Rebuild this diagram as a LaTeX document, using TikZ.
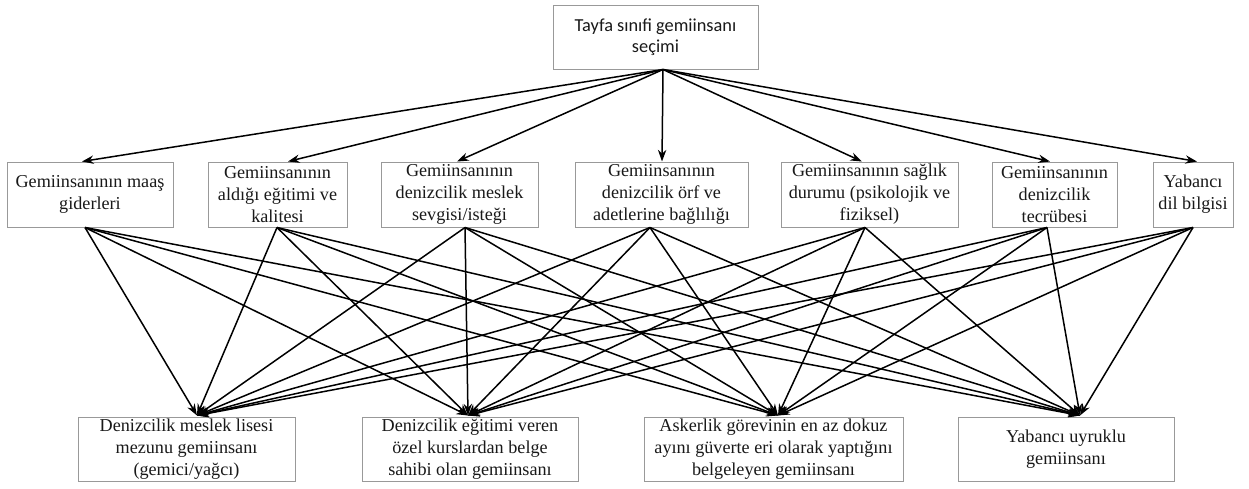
\documentclass[tikz,border=0pt]{standalone}
\usepackage{fontspec}
\setmainfont{Liberation Serif}
\newfontfamily\tnr{Liberation Serif}
\newfontfamily\calib{Carlito}
\usetikzlibrary{arrows.meta,calc}
\begin{document}
\begin{tikzpicture}[x=0.6pt,y=-0.6pt,
  box/.style={draw=black!40,line width=0.6pt,fill=white,inner sep=0pt,align=center,
    font=\tnr\fontsize{10.9}{13.2}\selectfont,text=black!90},
  mid/.style={box,minimum height=39pt},
  bot/.style={box,minimum height=38.4pt},
  con/.style={line width=0.9pt,draw=black,-{Stealth[length=7pt,width=5pt]}}]
\useasboundingbox (0,0) rectangle (1249,488);
% top
\node[box,font=\calib\fontsize{11}{12.5}\selectfont,minimum width=123pt,minimum height=38.4pt] (top) at (655.5,37) {Tayfa sınıfi gemiinsanı\\seçimi};
% middle row
\node[mid,minimum width=99.6pt] (m1) at (90,194.5) {Gemiinsanının maaş\\giderleri};
\node[mid,minimum width=83.4pt] (m2) at (277.5,194.5) {Gemiinsanının\\aldığı eğitimi ve\\kalitesi};
\node[mid,minimum width=94.2pt] (m3) at (459.5,194.5) {Gemiinsanının\\denizcilik meslek\\sevgisi/isteği};
\node[mid,minimum width=103.8pt] (m4) at (661.5,194.5) {Gemiinsanının\\denizcilik örf ve\\adetlerine bağlılığı};
\node[mid,minimum width=106.2pt] (m5) at (869.5,194.5) {Gemiinsanının sağlık\\durumu (psikolojik ve\\fiziksel)};
\node[mid,minimum width=75pt] (m6) at (1054.5,194.5) {Gemiinsanının\\denizcilik\\tecrübesi};
\node[mid,minimum width=48pt] (m7) at (1193,194.5) {Yabancı\\dil bilgisi};
% bottom row
\node[bot,minimum width=130.2pt] (b1) at (186.5,449) {Denizcilik meslek lisesi\\mezunu gemiinsanı\\(gemici/yağcı)};
\node[bot,minimum width=129.6pt] (b2) at (470,449) {Denizcilik eğitimi veren\\özel kurslardan belge\\sahibi olan gemiinsanı};
\node[bot,minimum width=155.4pt] (b3) at (773.5,449) {Askerlik görevinin en az dokuz\\ayını güverte eri olarak yaptığını\\belgeleyen gemiinsanı};
\node[bot,minimum width=129.6pt] (b4) at (1066,449) {Yabancı uyruklu\\gemiinsanı};
% connection points
\coordinate (ts) at ($(top.south)+(7.5,0)$);
\foreach \i/\t/\s in {1/-8/-5, 2/10.5/-0.5, 3/-2.5/5.5, 4/0.5/-11.5, 5/-7.5/-4.5, 6/-4.5/-7.5, 7/4/0}{
  \coordinate (m\i t) at ($(m\i.north)+(\t,0)$);
  \coordinate (m\i s) at ($(m\i.south)+(\s,0)$);
}
\foreach \j/\t in {1/10.5, 2/-2, 3/4.5, 4/14}{
  \coordinate (b\j t) at ($(b\j.north)+(\t,-1)$);
}
% connectors top -> middle
\foreach \i in {1,...,7}{
  \draw[con] (ts) -- (m\i t);
}
% connectors middle -> bottom
\foreach \i in {1,...,7}{
  \foreach \j in {1,...,4}{
    \draw[con] (m\i s) -- (b\j t);
  }
}
\end{tikzpicture}
\end{document}
